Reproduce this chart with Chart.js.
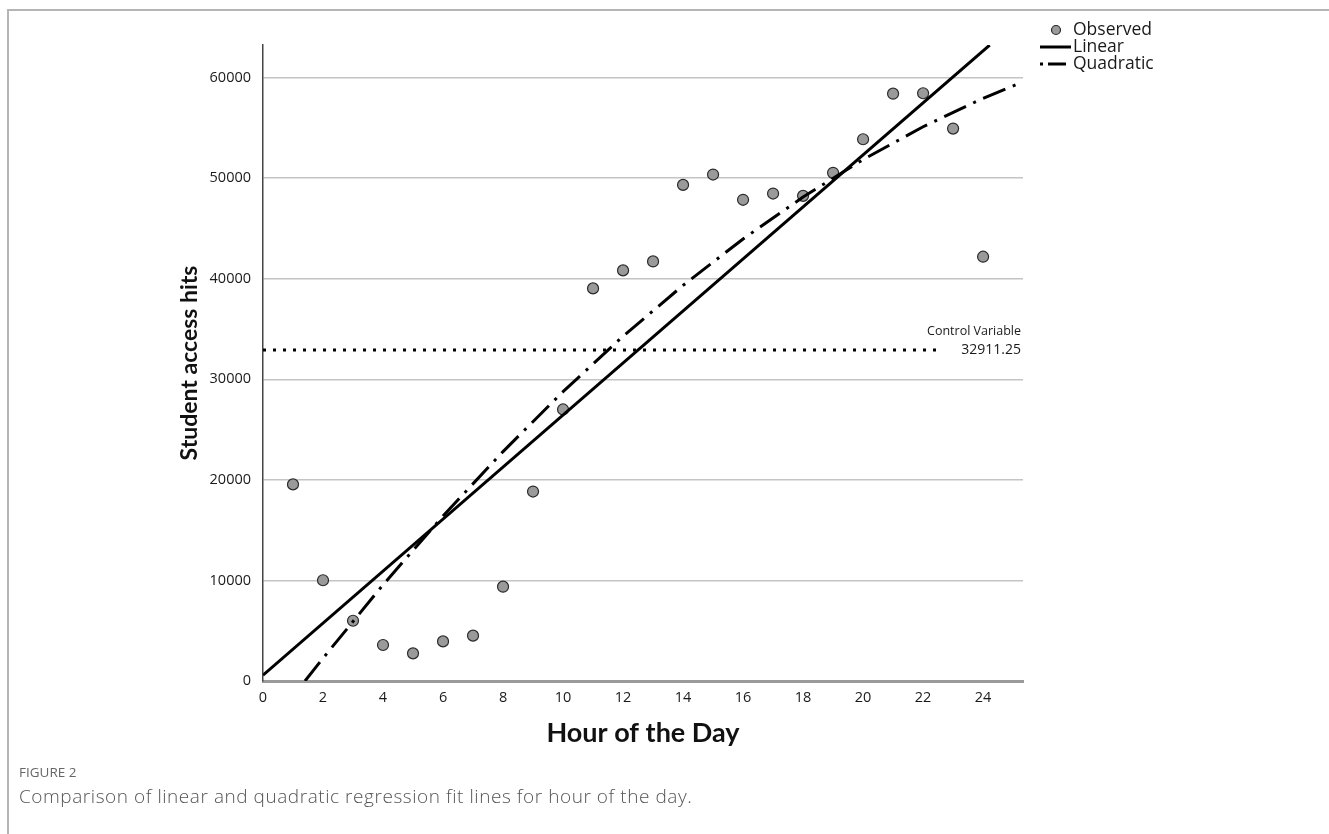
<!DOCTYPE html>
<html>
<head>
<meta charset="utf-8">
<script src="https://cdn.jsdelivr.net/npm/chart.js@4/dist/chart.umd.min.js"></script>
<style>
  html, body { margin: 0; padding: 0; background: #fff; }
  #wrap { position: relative; width: 1329px; height: 834px; overflow: hidden; }
  #frame { position: absolute; left: 7px; top: 9px; width: 1340px; height: 840px;
           border-top: 2px solid #b5b5b5; border-left: 2px solid #b5b5b5; box-sizing: border-box; }
  canvas { position: absolute; left: 0; top: 0; }
  #figlabel { position: absolute; left: 19px; top: 763px; font-family: "Open Sans", sans-serif;
              font-size: 13.5px; color: #666; }
  #caption { position: absolute; left: 19px; top: 783px; font-family: "Open Sans", sans-serif;
             font-size: 19px; font-weight: 300; color: #555; letter-spacing: 0.55px; }
</style>
</head>
<body>
<div id="wrap">
  <div id="frame"></div>
  <canvas id="c" width="1329" height="834"></canvas>
  <div id="figlabel">FIGURE 2</div>
  <div id="caption">Comparison of linear and quadratic regression fit lines for hour of the day.</div>
</div>
<script>
// ---- Data ----
const hours = [1,2,3,4,5,6,7,8,9,10,11,12,13,14,15,16,17,18,19,20,21,22,23,24];
const hits  = [19550,10020,5990,3580,2750,3940,4510,9380,18840,27000,39040,40830,
               41720,49330,50360,47850,48470,48240,50530,53870,58400,58440,54930,42190];

const linearX = [0, 24.22];
const linearY = [574, 63230];

const quadX = [1.4, 2, 4, 6, 8, 10, 12, 14, 16, 18, 20, 22, 24, 25.3];
const quadY = [0, 2264, 9561, 16410, 22813, 28768, 34277, 39339, 43953, 48120, 51841, 55114, 57940, 59537];

const controlValue = 32911.25;
const controlX = [0, 22.6];

const xTicks = [0,2,4,6,8,10,12,14,16,18,20,22,24];
const yTicks = [0,10000,20000,30000,40000,50000,60000];

const legendLabels = ["Observed", "Linear", "Quadratic"];

function pts(xs, ys) { return xs.map((x, i) => ({ x: x, y: ys[i] })); }

const quadDash = [24, 8, 3, 8];

const legendPlugin = {
  id: 'customLegend',
  afterDraw(chart) {
    const ctx = chart.ctx;
    ctx.save();
    ctx.textBaseline = 'middle';
    ctx.textAlign = 'left';
    const tx = 1073, ys = [30, 47, 64];
    ctx.beginPath();
    ctx.arc(1056, ys[0], 4.5, 0, Math.PI * 2);
    ctx.fillStyle = '#9a9a9a'; ctx.fill();
    ctx.lineWidth = 1.2; ctx.strokeStyle = '#2a2a2a'; ctx.stroke();
    ctx.beginPath(); ctx.setLineDash([]);
    ctx.lineWidth = 3; ctx.strokeStyle = '#000';
    ctx.moveTo(1040, ys[1]); ctx.lineTo(1071, ys[1]); ctx.stroke();
    ctx.beginPath(); ctx.setLineDash([3, 5, 18, 5]);
    ctx.moveTo(1040, ys[2]); ctx.lineTo(1071, ys[2]); ctx.stroke();
    ctx.setLineDash([]);
    ctx.font = '17.5px "Open Sans", sans-serif';
    ctx.fillStyle = '#1a1a1a';
    legendLabels.forEach((t, i) => ctx.fillText(t, tx, ys[i]));
    ctx.restore();
  }
};

const controlPlugin = {
  id: 'controlLabels',
  afterDraw(chart) {
    const ctx = chart.ctx;
    const ys = chart.scales.y;
    const py = ys.getPixelForValue(controlValue);
    const right = chart.chartArea.right - 2;
    ctx.save();
    ctx.fillStyle = '#1a1a1a';
    ctx.textAlign = 'right';
    ctx.textBaseline = 'middle';
    ctx.font = '12.5px "Open Sans", sans-serif';
    ctx.fillText('Control Variable', right, py - 19);
    ctx.font = '14px "Open Sans", sans-serif';
    ctx.fillText(controlValue.toFixed(2), right, py);
    ctx.restore();
  }
};

new Chart(document.getElementById('c'), {
  type: 'scatter',
  data: {
    datasets: [
      { label: 'Linear', type: 'line', data: pts(linearX, linearY), borderColor: '#000',
        borderWidth: 3, pointRadius: 0, fill: false, order: 1 },
      { label: 'Quadratic', type: 'line', data: pts(quadX, quadY), borderColor: '#000',
        borderWidth: 3, borderDash: quadDash, pointRadius: 0, fill: false, order: 1, tension: 0 },
      { label: 'Control', type: 'line', data: pts(controlX, controlX.map(() => controlValue)),
        borderColor: '#000', borderWidth: 3, borderDash: [3, 7], pointRadius: 0, fill: false, order: 2 },
      { label: 'Observed', data: pts(hours, hits), backgroundColor: '#9a9a9a', borderColor: '#2a2a2a',
        borderWidth: 1.2, pointRadius: 5.5, order: 3 }
    ]
  },
  options: {
    responsive: false,
    animation: false,
    devicePixelRatio: 1,
    layout: { padding: { left: 176, right: 306, top: 45, bottom: 85 } },
    plugins: { legend: { display: false }, tooltip: { enabled: false } },
    scales: {
      x: {
        type: 'linear', min: 0, max: 25.33,
        afterFit(s) { s.height = 68; },
        afterBuildTicks(s) { s.ticks = xTicks.map(v => ({ value: v })); },
        ticks: { includeBounds: false, autoSkip: false, maxRotation: 0, padding: 8, color: '#1a1a1a',
                 callback: v => String(v),
                 font: { family: '"Open Sans", sans-serif', size: 14.5 } },
        grid: { display: false, drawTicks: false },
        border: { display: true, color: '#9a9a9a', width: 3 },
        title: { display: true, text: 'Hour of the Day', color: '#111', padding: { top: 0, bottom: 0 },
                 font: { family: '"Lato", sans-serif', size: 27, weight: 'bold' } }
      },
      y: {
        type: 'linear', min: 0, max: 63240,
        afterFit(s) { s.width = 87; },
        afterBuildTicks(s) { s.ticks = yTicks.map(v => ({ value: v })); },
        ticks: { includeBounds: false, padding: 12, color: '#1a1a1a',
                 callback: v => String(v),
                 font: { family: '"Open Sans", sans-serif', size: 14.5 } },
        grid: { color: '#c4c4c4', lineWidth: 1.5, drawTicks: false },
        border: { display: true, color: '#444', width: 1.5 },
        title: { display: true, text: 'Student access hits', color: '#111', padding: { top: 0, bottom: 0 },
                 font: { family: '"Lato", sans-serif', size: 23, weight: 'bold' } }
      }
    }
  },
  plugins: [legendPlugin, controlPlugin]
});
</script>
</body>
</html>
